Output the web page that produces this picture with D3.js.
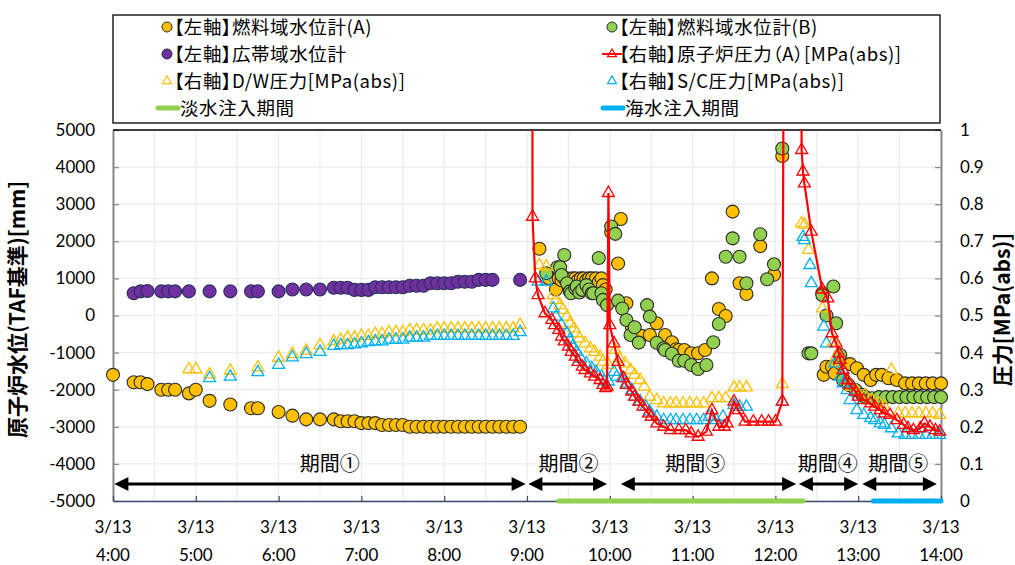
<!DOCTYPE html>
<html>
<head>
<meta charset="utf-8">
<script src="https://cdn.jsdelivr.net/npm/d3@7"></script>
<style>
  body { margin: 0; background: #fff; }
  text { font-family: Lato, "Noto Sans CJK JP", sans-serif; fill: #000; }
  .jp { font-family: "Noto Sans CJK JP", sans-serif; font-feature-settings: "palt"; }
</style>
</head>
<body>
<div id="chart"></div>
<script>
// ---- data (times on 3/13, left axis mm / right axis MPa abs) ----
var fuelA = [
  ["4:00",-1600],["4:15",-1800],["4:20",-1800],["4:25",-1850],["4:35",-2000],["4:40",-2000],["4:45",-2000],
  ["4:55",-2100],["5:00",-2000],["5:10",-2300],["5:25",-2400],["5:40",-2500],["5:45",-2500],["6:00",-2600],
  ["6:10",-2700],["6:20",-2800],["6:30",-2800],["6:40",-2800],["6:45",-2850],["6:50",-2850],["6:55",-2850],
  ["7:00",-2900],["7:05",-2900],["7:10",-2900],["7:15",-2950],["7:20",-2950],["7:25",-2950],["7:30",-2950],
  ["7:35",-3000],["7:40",-3000],["7:45",-3000],["7:50",-3000],["7:55",-3000],["8:00",-3000],["8:05",-3000],
  ["8:10",-3000],["8:15",-3000],["8:20",-3000],["8:25",-3000],["8:30",-3000],["8:35",-3000],["8:40",-3000],
  ["8:45",-3000],["8:50",-3000],["8:55",-3000],
  ["9:09",1800],["9:16",1000],["9:21",700],["9:23",1000],["9:25",950],["9:27",1000],["9:29",1000],["9:31",950],
  ["9:33",1000],["9:35",1000],["9:37",950],["9:39",1000],["9:41",1000],["9:43",950],["9:45",1000],["9:47",1000],
  ["9:50",1000],["9:52",900],["9:54",1000],["9:55",820],["9:57",700],
  ["10:01",2250],["10:06",1400],["10:08",2600],["10:12",330],["10:16",-310],["10:23",-550],["10:29",-526],
  ["10:34",-210],["10:40",-526],["10:45",-720],["10:48",-911],["10:50",-930],["10:54",-930],["10:59",-1019],
  ["11:04",-1019],["11:09",-930],["11:14",1000],["11:19",175],["11:24",-14],["11:29",2800],["11:34",870],
  ["11:39",580],["11:49",1870],["11:59",1100],["12:05",4300],
  ["12:34",600],["12:35",-1600],["12:37",-1380],["12:41",-1380],["12:43",-1560],["12:47",-1290],["12:54",-1310],
  ["12:59",-1420],["13:04",-1600],["13:09",-1740],["13:13",-1600],["13:17",-1600],["13:22",-1690],["13:28",-1740],
  ["13:34",-1830],["13:39",-1830],["13:44",-1830],["13:49",-1830],["13:54",-1830],["14:00",-1830]
];
var fuelB = [
  ["9:14",1140],["9:22",1300],["9:24",1300],["9:25",1090],["9:27",1630],["9:29",870],["9:31",650],["9:32",600],
  ["9:35",730],["9:36",780],["9:38",620],["9:40",690],["9:43",820],["9:45",700],["9:47",600],["9:48",600],
  ["9:52",1550],["9:54",600],["9:55",420],["9:58",280],
  ["10:01",2400],["10:04",2200],["10:06",400],["10:09",190],["10:12",-120],["10:15",-526],["10:18",-318],
  ["10:21",-730],["10:27",280],["10:29",-30],["10:34",-733],["10:39",-884],["10:40",-930],["10:45",-1030],
  ["10:50",-1218],["10:54",-1218],["10:59",-1334],["11:04",-1442],["11:10",-1334],["11:15",-722],["11:19",-229],
  ["11:24",1585],["11:29",2080],["11:34",1585],["11:39",870],["11:49",2190],["11:54",976],["11:59",1380],
  ["12:05",4500],
  ["12:24",-1020],["12:26",-1020],["12:34",550],["12:37",0],["12:42",780],["12:44",-210],["12:47",-1065],
  ["12:49",-1740],["12:53",-1870],["12:58",-2010],["13:03",-2140],["13:05",-2190],["13:10",-2230],["13:15",-2200],
  ["13:20",-2200],["13:25",-2200],["13:30",-2200],["13:35",-2200],["13:40",-2200],["13:45",-2200],["13:50",-2200],
  ["13:55",-2200],["14:00",-2200]
];
var wideRange = [
  ["4:15",600],["4:20",650],["4:25",660],["4:35",650],["4:40",650],["4:45",650],["4:55",650],["5:10",650],
  ["5:25",650],["5:40",650],["5:45",650],["6:00",650],["6:10",700],["6:20",700],["6:30",700],["6:40",750],
  ["6:45",750],["6:50",750],["6:55",690],["7:00",690],["7:05",690],["7:10",760],["7:15",760],["7:20",760],
  ["7:25",760],["7:30",760],["7:35",800],["7:40",800],["7:45",800],["7:50",870],["7:55",870],["8:00",870],
  ["8:05",870],["8:10",910],["8:15",910],["8:20",910],["8:25",960],["8:30",960],["8:35",960],["8:55",960]
];
var rpvPress = [
  ["9:03",7.0],["9:04",0.766],["9:06",0.60],["9:08",0.555],["9:13",0.506],["9:18",0.488],["9:20",0.474],
  ["9:23",0.461],["9:25",0.443],["9:27",0.43],["9:30",0.416],["9:32",0.402],["9:35",0.389],["9:37",0.375],
  ["9:40",0.362],["9:42",0.353],["9:46",0.344],["9:49",0.335],["9:53",0.326],["9:55",0.313],["9:57",0.304],
  ["9:58",0.308],["9:59",0.83],["10:00",0.474],["10:03",0.425],["10:06",0.375],["10:10",0.331],["10:12",0.313],
  ["10:16",0.295],["10:18",0.281],["10:21",0.268],["10:24",0.254],["10:28",0.236],["10:30",0.227],["10:34",0.209],
  ["10:39",0.20],["10:44",0.191],["10:50",0.191],["10:55",0.191],["10:59",0.182],["11:04",0.173],["11:10",0.187],
  ["11:14",0.245],["11:19",0.20],["11:23",0.20],["11:25",0.209],["11:30",0.268],["11:33",0.245],["11:38",0.214],
  ["11:44",0.214],["11:50",0.214],["11:55",0.214],["12:00",0.214],["12:05",0.268],["12:12",7.0],
  ["12:19",0.946],["12:20",0.888],["12:21",0.856],["12:26",0.726],["12:34",0.57],["12:38",0.546],["12:41",0.452],
  ["12:44",0.425],["12:46",0.398],["12:47",0.38],["12:49",0.353],["12:52",0.326],["12:54",0.313],["12:58",0.295],
  ["13:00",0.281],["13:04",0.272],["13:09",0.263],["13:12",0.254],["13:16",0.245],["13:19",0.236],["13:23",0.232],
  ["13:28",0.218],["13:33",0.205],["13:36",0.196],["13:40",0.191],["13:45",0.196],["13:48",0.209],["13:52",0.20],
  ["13:56",0.191],["13:59",0.187]
];
var dwPress = [
  ["4:55",0.355],["5:00",0.355],["5:10",0.341],["5:25",0.351],["5:45",0.36],["6:00",0.386],["6:10",0.396],
  ["6:20",0.405],["6:30",0.42],["6:40",0.43],["6:45",0.435],["6:50",0.44],["6:55",0.44],["7:00",0.445],
  ["7:05",0.445],["7:10",0.45],["7:15",0.45],["7:20",0.455],["7:25",0.455],["7:30",0.455],["7:35",0.46],
  ["7:40",0.46],["7:45",0.46],["7:50",0.46],["7:55",0.465],["8:00",0.465],["8:05",0.465],["8:10",0.465],
  ["8:15",0.465],["8:20",0.465],["8:25",0.465],["8:30",0.465],["8:35",0.465],["8:40",0.465],["8:45",0.465],
  ["8:50",0.465],["8:55",0.475],
  ["9:09",0.636],["9:14",0.632],["9:19",0.555],["9:21",0.542],["9:24",0.528],["9:26",0.515],["9:29",0.497],
  ["9:31",0.479],["9:34",0.465],["9:36",0.452],["9:38",0.438],["9:42",0.425],["9:46",0.411],["9:49",0.402],
  ["9:53",0.389],["9:55",0.375],["9:59",0.367],["10:04",0.407],["10:07",0.385],["10:11",0.371],["10:15",0.353],
  ["10:18",0.34],["10:22",0.326],["10:25",0.308],["10:29",0.281],["10:34",0.272],["10:39",0.263],["10:44",0.263],
  ["10:48",0.263],["10:53",0.263],["10:58",0.263],["11:03",0.263],["11:08",0.263],["11:14",0.277],["11:19",0.277],
  ["11:24",0.277],["11:30",0.306],["11:34",0.306],["11:39",0.306],["12:05",0.315],
  ["12:19",0.748],["12:21",0.745],["12:24",0.677],["12:34",0.519],["12:42",0.429],["12:44",0.389],["12:47",0.371],
  ["12:55",0.308],["12:59",0.295],["13:05",0.286],["13:10",0.272],["13:15",0.263],["13:19",0.254],["13:24",0.353],
  ["13:29",0.236],["13:34",0.236],["13:39",0.236],["13:44",0.236],["13:49",0.236],["13:54",0.236],["13:59",0.232]
];
var scPress = [
  ["5:10",0.331],["5:25",0.335],["5:45",0.347],["6:00",0.367],["6:10",0.387],["6:20",0.396],["6:30",0.402],
  ["6:40",0.418],["6:45",0.42],["6:50",0.42],["6:55",0.422],["7:00",0.425],["7:05",0.428],["7:10",0.43],
  ["7:15",0.43],["7:20",0.435],["7:25",0.435],["7:30",0.435],["7:35",0.44],["7:40",0.44],["7:45",0.44],
  ["7:50",0.445],["7:55",0.445],["8:00",0.445],["8:05",0.445],["8:10",0.445],["8:15",0.445],["8:20",0.445],
  ["8:25",0.445],["8:30",0.445],["8:35",0.445],["8:40",0.445],["8:45",0.445],["8:50",0.445],["8:55",0.455],
  ["9:08",0.591],["9:14",0.591],["9:19",0.519],["9:21",0.497],["9:25",0.474],["9:29",0.452],["9:31",0.434],
  ["9:33",0.416],["9:36",0.402],["9:39",0.384],["9:43",0.371],["9:47",0.358],["9:50",0.348],["9:54",0.335],
  ["9:56",0.322],["9:59",0.322],["10:03",0.348],["10:05",0.335],["10:09",0.331],["10:12",0.317],["10:16",0.299],
  ["10:18",0.281],["10:22",0.268],["10:26",0.254],["10:29",0.241],["10:34",0.227],["10:39",0.218],["10:44",0.218],
  ["10:48",0.218],["10:53",0.218],["10:58",0.218],["11:03",0.218],["11:08",0.218],["11:12",0.227],["11:17",0.218],
  ["11:22",0.227],["11:30",0.259],["11:34",0.254],["11:39",0.254],["12:05",0.268],
  ["12:20",0.712],["12:21",0.703],["12:25",0.636],["12:26",0.587],["12:35",0.47],["12:37",0.425],["12:43",0.371],
  ["12:47",0.335],["12:49",0.317],["12:52",0.299],["12:54",0.272],["12:59",0.245],["13:04",0.232],["13:09",0.223],
  ["13:12",0.218],["13:16",0.209],["13:19",0.205],["13:24",0.196],["13:29",0.182],["13:34",0.178],["13:39",0.178],
  ["13:44",0.178],["13:49",0.178],["13:54",0.178],["13:59",0.178]
];
// injection periods (drawn on the time axis)
var freshWater = ["9:23","12:20"];
var seaWater = ["13:11","14:00"];
// period arrows
var periodNames = ["期間①","期間②","期間③","期間④","期間⑤"];
var periodFrom  = ["4:01","9:01","10:08","12:17","13:03"];
var periodTo    = ["8:59","9:58","12:15","13:00","13:57"];
var periodLabelAt = ["6:37","9:30","11:02","12:38","13:29"];

// set the dimensions and margins of the graph
var margin = {top: 130, right: 74, bottom: 64, left: 113},
    width = 1015 - margin.left - margin.right,
    height = 565 - margin.top - margin.bottom;

var parseTime = d3.timeParse("%Y/%m/%d %H:%M");
function T(s) { return parseTime("2011/03/13 " + s); }

var root = d3.select("#chart").append("svg")
    .attr("width", 1015).attr("height", 565);
var svg = root.append("g")
    .attr("transform", "translate(" + margin.left + "," + margin.top + ")");

var x = d3.scaleTime().domain([T("4:00"), T("14:00")]).range([0, width]);
var yL = d3.scaleLinear().domain([-5000, 5000]).range([height, 0]);
var yR = d3.scaleLinear().domain([0, 1]).range([height, 0]);

// gridlines
svg.append("g").selectAll("line")
  .data(x.ticks(d3.timeMinute.every(30)))
  .enter().append("line")
    .attr("x1", function(d) { return x(d); }).attr("x2", function(d) { return x(d); })
    .attr("y1", 0).attr("y2", height)
    .attr("stroke", "#ebebeb").attr("stroke-width", 1.2);
svg.append("g").selectAll("line")
  .data(yL.ticks(10))
  .enter().append("line")
    .attr("x1", 0).attr("x2", width)
    .attr("y1", function(d) { return yL(d); }).attr("y2", function(d) { return yL(d); })
    .attr("stroke", "#ebebeb").attr("stroke-width", 1.2);

// axes
var axL = svg.append("g")
    .call(d3.axisLeft(yL).ticks(10).tickSize(-6).tickSizeOuter(0).tickPadding(18)
      .tickFormat(function(d) { return String(d); }));
var axR = svg.append("g")
    .attr("transform", "translate(" + width + ",0)")
    .call(d3.axisRight(yR).ticks(10).tickSize(-6).tickSizeOuter(0).tickPadding(19)
      .tickFormat(function(d) { return String(d); }));
var axB = svg.append("g")
    .attr("transform", "translate(0," + height + ")")
    .call(d3.axisBottom(x).ticks(d3.timeHour.every(1)).tickSize(-5).tickSizeOuter(0).tickFormat(""));
[axL, axR].forEach(function(a) {
  a.select(".domain").attr("stroke", "#8a8a8a").attr("stroke-width", 2);
  a.selectAll(".tick line").attr("stroke", "#8a8a8a").attr("stroke-width", 1.3);
  a.selectAll(".tick text").style("font-size", "17px").attr("fill", "#000");
});
axB.select(".domain").attr("stroke", "#3b4a68").attr("stroke-width", 1.5);
axB.selectAll(".tick line").attr("stroke", "#3b4a68").attr("stroke-width", 1.2);

var hourLabels = svg.append("g").selectAll("text")
  .data(x.ticks(d3.timeHour.every(1)))
  .enter().append("text")
    .attr("text-anchor", "middle")
    .style("font-size", "17px");
hourLabels.append("tspan")
    .attr("x", function(d) { return x(d); }).attr("y", height + 32)
    .text("3/13");
hourLabels.append("tspan")
    .attr("x", function(d) { return x(d); }).attr("y", height + 60)
    .text(d3.timeFormat("%-H:%M"));

// top border of the plot area
svg.append("line").attr("x1", 0).attr("x2", width).attr("y1", 0).attr("y2", 0)
    .attr("stroke", "#000").attr("stroke-width", 1.5);

// axis titles
root.append("text").attr("class", "jp")
    .attr("transform", "translate(25," + (margin.top + height / 2 - 6) + ") rotate(-90)")
    .attr("text-anchor", "middle")
    .style("font-size", "21px").style("font-weight", "bold")
    .text("原子炉水位(TAF基準)[mm]");
root.append("text").attr("class", "jp")
    .attr("transform", "translate(1010," + (margin.top + height / 2 - 6) + ") rotate(-90)")
    .attr("text-anchor", "middle")
    .style("font-size", "21px").style("font-weight", "bold")
    .text("圧力[MPa(abs)]");

// period arrows
var ay = 354;
periodNames.forEach(function(name, i) {
  var x1 = x(T(periodFrom[i])), x2 = x(T(periodTo[i]));
  svg.append("line").attr("x1", x1 + 8).attr("x2", x2 - 8).attr("y1", ay).attr("y2", ay)
      .attr("stroke", "#000").attr("stroke-width", 3);
  svg.append("path").attr("d", "M" + x1 + "," + ay + "l14,-7l0,14z").attr("fill", "#000");
  svg.append("path").attr("d", "M" + x2 + "," + ay + "l-14,-7l0,14z").attr("fill", "#000");
  svg.append("text").attr("class", "jp")
      .attr("x", x(T(periodLabelAt[i]))).attr("y", ay - 13)
      .attr("text-anchor", "middle")
      .style("font-size", "20px")
      .text(name);
});

// injection bars on the time axis
svg.append("line")
    .attr("x1", x(T(freshWater[0]))).attr("x2", x(T(freshWater[1])))
    .attr("y1", height).attr("y2", height)
    .attr("stroke", "#92D050").attr("stroke-width", 5).attr("stroke-linecap", "round");
svg.append("line")
    .attr("x1", x(T(seaWater[0]))).attr("x2", x(T(seaWater[1])))
    .attr("y1", height).attr("y2", height)
    .attr("stroke", "#00B0F0").attr("stroke-width", 5).attr("stroke-linecap", "round");

// circle series
function dots(data, fill, stroke) {
  svg.append("g").selectAll("circle")
    .data(data)
    .enter().append("circle")
      .attr("cx", function(d) { return x(T(d[0])); })
      .attr("cy", function(d) { return yL(d[1]); })
      .attr("r", 6.5)
      .attr("fill", fill).attr("stroke", stroke).attr("stroke-width", 1.1);
}
dots(fuelA, "#FFC000", "#2b2b2b");
dots(fuelB, "#92D050", "#2b2b2b");
dots(wideRange, "#7030A0", "#26305a");

// triangle series
var tri = d3.symbol().type(d3.symbolTriangle).size(62);
function tris(data, color) {
  svg.append("g").selectAll("path")
    .data(data.filter(function(d) { return d[1] <= 1; }))
    .enter().append("path")
      .attr("d", tri)
      .attr("transform", function(d) { return "translate(" + x(T(d[0])) + "," + yR(d[1]) + ")"; })
      .attr("fill", "none").attr("stroke", color).attr("stroke-width", 1.3);
}
tris(dwPress, "#FFC000");
tris(scPress, "#00B0F0");

// reactor pressure line (clipped to plot area)
svg.append("clipPath").attr("id", "plotClip")
  .append("rect").attr("x", -20).attr("y", 0).attr("width", width + 40).attr("height", height);
svg.append("path")
    .datum(rpvPress)
    .attr("clip-path", "url(#plotClip)")
    .attr("fill", "none").attr("stroke", "#FF0000").attr("stroke-width", 2.2)
    .attr("d", d3.line()
      .x(function(d) { return x(T(d[0])); })
      .y(function(d) { return yR(d[1]); }));
tris(rpvPress, "#FF0000");

// legend
root.append("rect").attr("x", 113).attr("y", 15).attr("width", 827).attr("height", 108)
    .attr("fill", "#fff").attr("stroke", "#000").attr("stroke-width", 1.3);
var legendItems = [
  {kind: "dot", color: "#FFC000", label: "【左軸】燃料域水位計(A)"},
  {kind: "dot", color: "#92D050", label: "【左軸】燃料域水位計(B)"},
  {kind: "dot", color: "#7030A0", label: "【左軸】広帯域水位計"},
  {kind: "linetri", color: "#FF0000", label: "【右軸】原子炉圧力（A）[MPa(abs)]"},
  {kind: "tri", color: "#FFC000", label: "【右軸】D/W圧力[MPa(abs)]"},
  {kind: "tri", color: "#00B0F0", label: "【右軸】S/C圧力[MPa(abs)]"},
  {kind: "bar", color: "#92D050", label: "淡水注入期間"},
  {kind: "bar", color: "#00B0F0", label: "海水注入期間"}
];
var colX = [167, 612], rowY = [27, 54, 81, 108];
var smallTri = d3.symbol().type(d3.symbolTriangle).size(34);
legendItems.forEach(function(it, i) {
  var lx = colX[i % 2], ly = rowY[Math.floor(i / 2)];
  var g = root.append("g").attr("transform", "translate(" + lx + "," + ly + ")");
  if (it.kind === "dot") {
    g.append("circle").attr("r", 5).attr("fill", it.color).attr("stroke", "#2b2b2b").attr("stroke-width", 1);
  } else if (it.kind === "tri") {
    g.append("path").attr("d", smallTri).attr("fill", "none").attr("stroke", it.color).attr("stroke-width", 1.2);
  } else if (it.kind === "linetri") {
    g.append("line").attr("x1", -10).attr("x2", 10).attr("stroke", it.color).attr("stroke-width", 2);
    g.append("path").attr("d", smallTri).attr("fill", "none").attr("stroke", it.color).attr("stroke-width", 1.2);
  } else {
    g.append("line").attr("x1", -9).attr("x2", 11).attr("stroke", it.color)
      .attr("stroke-width", 5).attr("stroke-linecap", "round");
  }
  g.append("text").attr("class", "jp")
    .attr("x", it.kind === "bar" ? 13 : 7).attr("dy", "0.36em")
    .style("font-size", "18.5px").style("letter-spacing", "0.6px")
    .text(it.label);
});
</script>
</body>
</html>
